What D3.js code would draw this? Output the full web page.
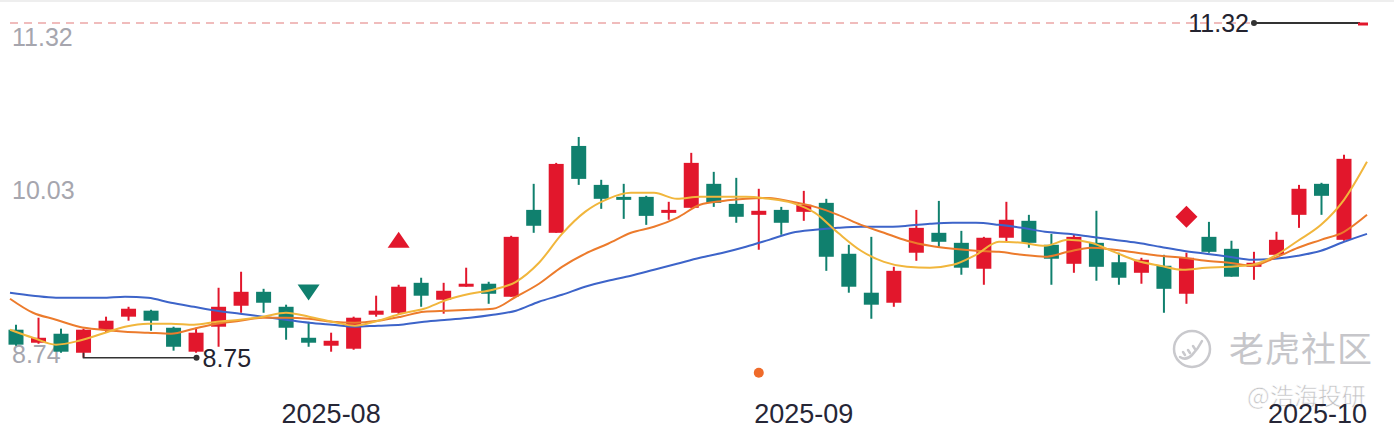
<!DOCTYPE html>
<html>
<head>
<meta charset="utf-8">
<script src="https://cdn.jsdelivr.net/npm/d3@7"></script>
<style>
  html, body { margin: 0; padding: 0; background: #fff; }
  svg { display: block; font-family: "Liberation Sans", Arial, sans-serif; }
</style>
</head>
<body>
<svg id="chart" width="1394" height="428"></svg>
<script>
// trading days shown on the chart
const dates = [
  "2025-07-14","2025-07-15","2025-07-16","2025-07-17","2025-07-18","2025-07-21","2025-07-22","2025-07-23","2025-07-24","2025-07-25",
  "2025-07-28","2025-07-29","2025-07-30","2025-07-31","2025-08-01","2025-08-04","2025-08-05","2025-08-06","2025-08-07","2025-08-08",
  "2025-08-11","2025-08-12","2025-08-13","2025-08-14","2025-08-15","2025-08-18","2025-08-19","2025-08-20","2025-08-21","2025-08-22",
  "2025-08-25","2025-08-26","2025-08-27","2025-08-28","2025-08-29","2025-09-01","2025-09-02","2025-09-03","2025-09-04","2025-09-05",
  "2025-09-08","2025-09-09","2025-09-10","2025-09-11","2025-09-12","2025-09-15","2025-09-16","2025-09-17","2025-09-18","2025-09-19",
  "2025-09-22","2025-09-23","2025-09-24","2025-09-25","2025-09-26","2025-09-29","2025-09-30","2025-10-09","2025-10-10","2025-10-13"
];

const open = [
  8.965, 8.865, 8.934, 8.788, 8.965, 9.065, 9.111, 8.980, 8.796, 8.988,
  9.149, 9.256, 9.141, 8.903, 8.842, 8.819, 9.080, 9.095, 9.325, 9.195,
  9.295, 9.318, 9.218, 9.885, 9.709, 10.376, 10.077, 9.985, 9.985, 9.862,
  9.901, 10.085, 9.931, 9.847, 9.885, 9.870, 9.939, 9.548, 9.249, 9.172,
  9.556, 9.709, 9.632, 9.433, 9.671, 9.801, 9.617, 9.471, 9.632, 9.483,
  9.402, 9.456, 9.241, 9.678, 9.586, 9.448, 9.540, 9.847, 10.085, 9.655
];
const close = [
  8.850, 8.903, 8.796, 8.965, 9.034, 9.126, 9.034, 8.834, 8.942, 9.141,
  9.256, 9.172, 8.980, 8.865, 8.880, 9.057, 9.111, 9.295, 9.226, 9.264,
  9.318, 9.241, 9.678, 9.763, 10.238, 10.123, 9.970, 9.977, 9.839, 9.885,
  10.246, 9.939, 9.832, 9.878, 9.786, 9.924, 9.525, 9.295, 9.157, 9.417,
  9.747, 9.640, 9.441, 9.671, 9.809, 9.632, 9.510, 9.678, 9.448, 9.364,
  9.502, 9.279, 9.517, 9.563, 9.372, 9.479, 9.655, 10.047, 9.993, 10.277
];
const high = [
  9.003, 9.057, 8.973, 8.973, 9.065, 9.141, 9.118, 8.988, 8.980, 9.287,
  9.410, 9.279, 9.157, 9.026, 8.942, 9.065, 9.226, 9.310, 9.364, 9.325,
  9.441, 9.333, 9.686, 10.085, 10.246, 10.445, 10.116, 10.085, 9.993, 9.947,
  10.323, 10.177, 10.131, 10.047, 9.908, 10.031, 9.970, 9.617, 9.678, 9.448,
  9.885, 9.954, 9.724, 9.678, 9.947, 9.847, 9.701, 9.694, 9.878, 9.556,
  9.517, 9.540, 9.556, 9.793, 9.648, 9.563, 9.717, 10.077, 10.093, 10.308
];
const low = [
  8.842, 8.857, 8.788, 8.750, 8.942, 9.034, 8.957, 8.804, 8.788, 8.834,
  9.095, 9.095, 8.888, 8.834, 8.796, 8.811, 9.065, 9.080, 9.141, 9.088,
  9.295, 9.164, 9.218, 9.709, 9.709, 10.077, 9.893, 9.816, 9.770, 9.809,
  9.901, 9.908, 9.786, 9.579, 9.694, 9.801, 9.417, 9.249, 9.049, 9.141,
  9.494, 9.594, 9.387, 9.310, 9.640, 9.594, 9.310, 9.402, 9.341, 9.310,
  9.318, 9.095, 9.164, 9.556, 9.372, 9.348, 9.533, 9.747, 9.847, 9.648
];

// moving average lines
const ma5 = [
  8.965, 8.903, 8.850, 8.880, 8.934, 8.988, 9.011, 9.011, 9.003, 9.026,
  9.042, 9.065, 9.095, 9.065, 9.026, 8.996, 9.034, 9.088, 9.126, 9.195,
  9.241, 9.272, 9.333, 9.479, 9.701, 9.870, 9.970, 10.016, 10.016, 9.970,
  9.985, 9.985, 9.985, 9.970, 9.939, 9.862, 9.709, 9.571, 9.486, 9.448,
  9.441, 9.463, 9.540, 9.640, 9.632, 9.609, 9.655, 9.632, 9.563, 9.494,
  9.456, 9.425, 9.441, 9.448, 9.463, 9.533, 9.648, 9.770, 9.962, 10.254
];
const ma10 = [
  9.203, 9.095, 9.042, 8.988, 8.965, 8.950, 8.942, 8.934, 8.973, 9.011,
  9.034, 9.057, 9.057, 9.049, 9.026, 9.019, 9.034, 9.065, 9.103, 9.111,
  9.118, 9.126, 9.218, 9.318, 9.448, 9.548, 9.625, 9.709, 9.755, 9.824,
  9.924, 9.954, 9.970, 9.977, 9.947, 9.908, 9.847, 9.770, 9.709, 9.648,
  9.609, 9.586, 9.571, 9.563, 9.540, 9.525, 9.563, 9.594, 9.579, 9.556,
  9.533, 9.517, 9.494, 9.479, 9.456, 9.517, 9.594, 9.655, 9.717, 9.847
];
const ma20 = [
  9.249, 9.226, 9.210, 9.210, 9.210, 9.218, 9.210, 9.172, 9.141, 9.111,
  9.088, 9.065, 9.042, 9.019, 9.003, 8.988, 8.996, 9.003, 9.026, 9.042,
  9.057, 9.080, 9.111, 9.180, 9.233, 9.295, 9.341, 9.379, 9.425, 9.471,
  9.517, 9.556, 9.602, 9.655, 9.709, 9.732, 9.747, 9.755, 9.755, 9.763,
  9.778, 9.786, 9.786, 9.770, 9.747, 9.717, 9.701, 9.678, 9.655, 9.632,
  9.602, 9.571, 9.548, 9.525, 9.502, 9.510, 9.533, 9.571, 9.640, 9.701
];

const yTicks = [11.32, 10.03, 8.74];
const monthLabels = ["2025-08", "2025-09", "2025-10"];
const lastPrice = 11.32;
const lowestIndex = 3;
const lowestValue = 8.75;
// trade signals: candle index, kind, price level
const signals = [
  { i: 13, kind: "sell", value: 9.250 },
  { i: 17, kind: "buy", value: 9.655 },
  { i: 52, kind: "diamond", value: 9.832 },
  { i: 33, kind: "dot", value: 8.635 }
];

const W = 1394, H = 428;
const UP = "#e2172c", DOWN = "#10806e";
const svg = d3.select("#chart");

const x = d3.scaleLinear().domain([0, dates.length - 1]).range([16, 1344]);
const xLine = d3.scaleLinear().domain([0, dates.length - 1]).range([10, 1367]);
const y = d3.scaleLinear().domain([8.74, 11.32]).range([359, 23]);

// faint frame at the top
svg.append("line").attr("x1", 0).attr("x2", W).attr("y1", 1).attr("y2", 1)
  .attr("stroke", "#eeeeee").attr("stroke-width", 2);

// y labels, drawn under everything
svg.append("g").selectAll("text")
  .data(yTicks)
  .join("text")
  .attr("x", 12)
  .attr("y", (d, i) => y(d) + (i === 0 ? 23 : (i === yTicks.length - 1 ? 4 : 8)))
  .attr("font-size", 25)
  .attr("fill", "#a6a6ae")
  .text(d => d.toFixed(2));

// dashed line at the latest price level
svg.append("line")
  .attr("x1", 10).attr("x2", 1250)
  .attr("y1", y(lastPrice)).attr("y2", y(lastPrice))
  .attr("stroke", "#eba6a6")
  .attr("stroke-width", 1.6)
  .attr("stroke-dasharray", "8,6");

// watermark
const wm = svg.append("g");
wm.append("circle").attr("cx", 1192).attr("cy", 349).attr("r", 18)
  .attr("fill", "none").attr("stroke", "#c9c9cd").attr("stroke-width", 2.5);
wm.append("path")
  .attr("d", "M1180,357 q6,4 12,-2 q6,-6 10,-14 M1183,352 l2,3 M1188,350 l2,3 M1193,346 l2,3")
  .attr("fill", "none").attr("stroke", "#c9c9cd").attr("stroke-width", 2.5).attr("stroke-linecap", "round");
wm.append("text").attr("x", 1229).attr("y", 362)
  .attr("font-family", "'Noto Sans CJK SC', sans-serif").attr("font-size", 35)
  .attr("fill", "#c6c6ca").attr("letter-spacing", 1).text("老虎社区");
wm.append("text").attr("x", 1247).attr("y", 405)
  .attr("font-family", "'Noto Sans CJK SC', sans-serif").attr("font-size", 24)
  .attr("fill", "#c2c2c4").attr("stroke", "#fff").attr("stroke-width", 0.6)
  .text("@浩海投研");

// candles
const idx = d3.range(dates.length);
const candles = svg.append("g").selectAll("g")
  .data(idx)
  .join("g")
  .attr("fill", i => close[i] >= open[i] ? UP : DOWN)
  .attr("stroke", i => close[i] >= open[i] ? UP : DOWN);

candles.append("line")
  .attr("x1", i => x(i)).attr("x2", i => x(i))
  .attr("y1", i => y(high[i])).attr("y2", i => y(low[i]))
  .attr("stroke-width", 2);

candles.append("rect")
  .attr("x", i => x(i) - 7.5)
  .attr("width", 15)
  .attr("y", i => y(Math.max(open[i], close[i])))
  .attr("height", i => Math.max(3, Math.abs(y(open[i]) - y(close[i]))))
  .attr("stroke", "none");

// moving averages
const line = d3.line().x((d, i) => xLine(i)).y(d => y(d)).curve(d3.curveMonotoneX);
[[ma20, "#3d64c9"], [ma10, "#ec7b2c"], [ma5, "#f1b63c"]].forEach(([s, c]) => {
  svg.append("path").datum(s)
    .attr("fill", "none")
    .attr("stroke", c)
    .attr("stroke-width", 2)
    .attr("stroke-linejoin", "round")
    .attr("d", line);
});

// signals
const sg = svg.append("g");
signals.forEach(s => {
  const cx = x(s.i), cy = y(s.value);
  if (s.kind === "buy") {
    sg.append("path").attr("d", `M${cx},${cy - 8} L${cx + 11},${cy + 8} L${cx - 11},${cy + 8} Z`).attr("fill", UP);
  } else if (s.kind === "sell") {
    sg.append("path").attr("d", `M${cx - 11},${cy - 8} L${cx + 11},${cy - 8} L${cx},${cy + 8} Z`).attr("fill", DOWN);
  } else if (s.kind === "diamond") {
    sg.append("path").attr("d", `M${cx},${cy - 11} L${cx + 11},${cy} L${cx},${cy + 11} L${cx - 11},${cy} Z`).attr("fill", UP);
  } else {
    sg.append("circle").attr("cx", cx).attr("cy", cy).attr("r", 5).attr("fill", "#ef6b2a");
  }
});

// lowest price marker
const lx = x(lowestIndex), ly = y(lowestValue);
svg.append("path")
  .attr("d", `M${lx},${ly - 5} V${ly} H${lx + 113}`)
  .attr("fill", "none").attr("stroke", "#333").attr("stroke-width", 1.6);
svg.append("circle").attr("cx", lx + 113).attr("cy", ly).attr("r", 3).attr("fill", "#333");
svg.append("text").attr("x", lx + 119).attr("y", ly + 9)
  .attr("font-size", 25).attr("fill", "#23232f").text(lowestValue.toFixed(2));

// latest price marker at top right
const ty = y(lastPrice);
svg.append("text").attr("x", 1249).attr("y", ty + 9).attr("text-anchor", "end")
  .attr("font-size", 25).attr("fill", "#23232f").text(lastPrice.toFixed(2));
svg.append("line").attr("x1", 1254).attr("x2", 1360).attr("y1", ty).attr("y2", ty)
  .attr("stroke", "#333").attr("stroke-width", 2);
svg.append("circle").attr("cx", 1254).attr("cy", ty).attr("r", 3).attr("fill", "#333");
svg.append("line").attr("x1", 1358).attr("x2", 1368).attr("y1", ty + 1).attr("y2", ty + 1)
  .attr("stroke", UP).attr("stroke-width", 3);

// month labels at the first trading day of each month
const firsts = monthLabels.map(m => dates.findIndex(d => d.startsWith(m)));
svg.append("g").selectAll("text")
  .data(monthLabels)
  .join("text")
  .attr("x", (d, k) => k === monthLabels.length - 1 ? xLine.range()[1] : x(firsts[k]))
  .attr("y", 423)
  .attr("text-anchor", (d, k) => k === monthLabels.length - 1 ? "end" : "middle")
  .attr("font-size", 27)
  .attr("fill", "#262636")
  .text(d => d);
</script>
</body>
</html>
